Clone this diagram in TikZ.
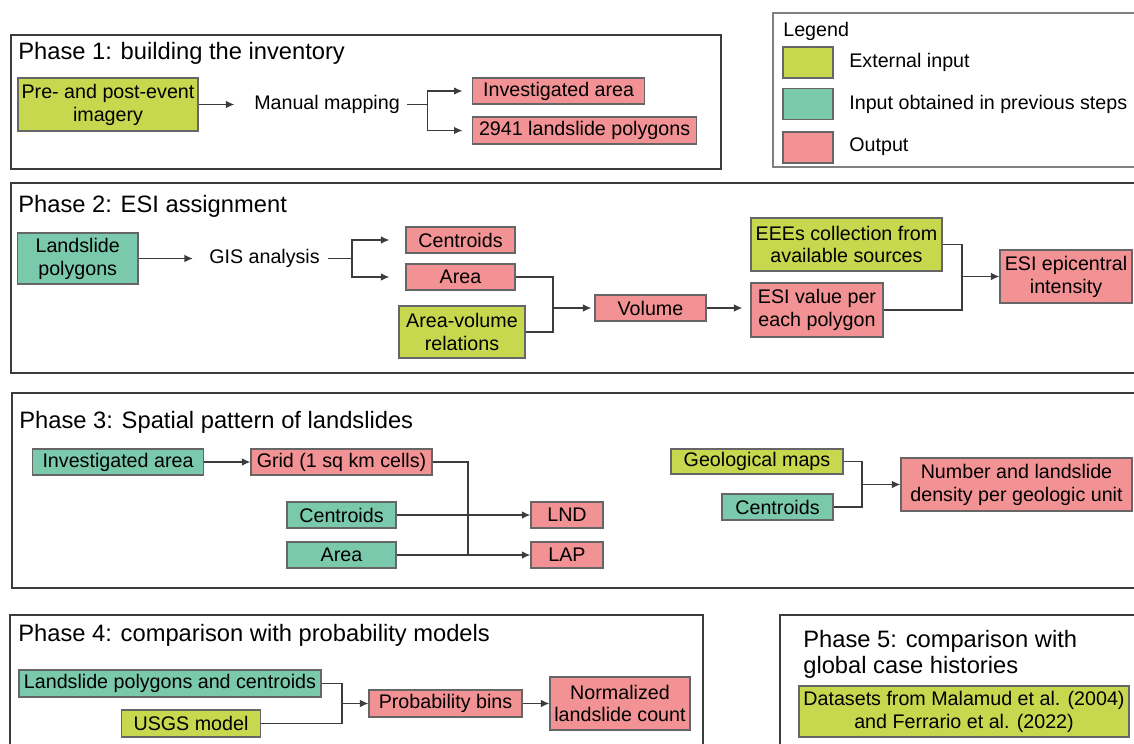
\documentclass[tikz,border=0pt]{standalone}
\usepackage{fontspec}
\setmainfont{Liberation Sans}
\usepackage{tikz}
\usetikzlibrary{arrows,arrows.meta,positioning}
\definecolor{extcol}{RGB}{199,215,78}
\definecolor{prevcol}{RGB}{122,201,172}
\definecolor{outcol}{RGB}{242,146,148}
\definecolor{linecol}{RGB}{60,60,60}
\newcommand{\boxfont}{\fontsize{11.2}{13}\selectfont}
\newcommand{\phasefont}{\fontsize{13.5}{14.7}\selectfont}
\tikzset{
  %Define standard arrow tip
  >={Latex[length=0.17cm,width=0.15cm]},
  %Define style for boxes
  flowbox/.style={
    rectangle,
    draw=black!60, line width=0.7pt,
    inner sep=1pt,
    minimum height=0.52cm,
    align=center,
    font=\boxfont},
  extbox/.style={flowbox, fill=extcol},
  prevbox/.style={flowbox, fill=prevcol},
  outbox/.style={flowbox, fill=outcol},
  plain/.style={font=\boxfont, inner ysep=1pt},
  % Define style for phase frames
  phaseframe/.style={draw=linecol, line width=1.2pt},
  phasetitle/.style={inner sep=0pt, font=\phasefont, align=left},
  % Define connector style
  link/.style={draw=linecol, line width=0.7pt},
  pil/.style={link, ->}
}

\begin{document}
\begin{tikzpicture}[x=0.02cm, y=-0.02cm]
  \useasboundingbox (0,0) rectangle (1134,744);

  % Phase 1
  \draw[phaseframe] (11,35) rectangle (721,169);
  \node[phasetitle, anchor=base west] (title1) at (18,59) {Phase 1: building the inventory};
  \node[extbox, minimum width=3.6cm, minimum height=1.06cm] (imagery) at (108,104.5) {Pre- and post-event\\imagery};
  \node[plain, inner xsep=0.14cm] (mapping) at (327,104.5) {Manual mapping};
  \node[outbox, minimum width=3.44cm] (invarea) at (558.6,91) {Investigated area};
  \node[outbox, minimum width=4.48cm, minimum height=0.54cm] (polygons) at (584.6,130.5) {2941 landslide polygons};
  \draw[pil, shorten >=0.25cm] (imagery) -- (mapping);
  \draw[link] (mapping.east) -- ++(20.5,0) coordinate (split1);
  \draw[pil, shorten >=0.19cm] (split1) |- (invarea);
  \draw[pil, shorten >=0.19cm] (split1) |- (polygons);

  % Legend
  \draw[draw=black!50, line width=0.8pt] (1134,13) -- (773,13) -- (773,167) -- (1134,167);
  \node[plain, anchor=west, inner sep=0pt] (legend) at (783,31) {Legend};
  \node[extbox, minimum width=1cm, minimum height=0.62cm] (keyext) at (808,62.5) {};
  \node[prevbox, minimum width=1cm, minimum height=0.62cm] (keyprev) at (808,104) {};
  \node[outbox, minimum width=1cm, minimum height=0.62cm] (keyout) at (808,147.5) {};
  \node[plain, anchor=west, inner sep=0pt] (labext) at (849,62) {External input};
  \node[plain, anchor=west, inner sep=0pt] (labprev) at (849,104) {Input obtained in previous steps};
  \node[plain, anchor=west, inner sep=0pt] (labout) at (849,147) {Output};

  % Phase 2
  \draw[phaseframe] (1134,183) -- (11,183) -- (11,373) -- (1134,373);
  \node[phasetitle, anchor=base west] (title2) at (18,212) {Phase 2: ESI assignment};
  \node[prevbox, minimum width=2.41cm, minimum height=1.02cm] (lspolys) at (77.7,258.5) {Landslide\\polygons};
  \node[plain, inner xsep=0.16cm] (gis) at (264.5,258.5) {GIS analysis};
  \node[outbox, minimum width=2.18cm] (centroids) at (460.5,240) {Centroids};
  \node[outbox, minimum width=2.18cm] (area) at (460.5,277) {Area};
  \node[extbox, minimum width=2.52cm, minimum height=1.04cm] (avrel) at (462,332) {Area-volume\\relations};
  \node[outbox, minimum width=2.22cm] (volume) at (650.5,308) {Volume};
  \node[outbox, minimum width=2.64cm, minimum height=1.08cm] (esivalue) at (817,310) {ESI value per\\each polygon};
  \node[extbox, minimum width=3.82cm, minimum height=1.06cm] (eees) at (846.5,244.5) {EEEs collection from\\available sources};
  \node[outbox, minimum width=2.64cm, minimum height=1.06cm] (esiint) at (1066,276.5) {ESI epicentral\\intensity};
  \draw[pil, shorten >=0.16cm] (lspolys) -- (gis);
  \draw[link] (gis.east) -- ++(24,0) coordinate (split2);
  \draw[pil, shorten >=0.32cm] (split2) |- (centroids);
  \draw[pil, shorten >=0.32cm] (split2) |- (area);
  \coordinate (join2a) at (553,308);
  \draw[link] (area.east) -| (join2a) |- (avrel.east);
  \draw[pil, shorten >=0.06cm] (join2a) -- (volume);
  \draw[pil, shorten >=0.16cm] (volume) -- (volume -| esivalue.west);
  \coordinate (join2b) at (962,276.5);
  \draw[link] (eees.east) -| (join2b) |- (esivalue.east);
  \draw[pil] (join2b) -- (esiint);

  % Phase 3
  \draw[phaseframe] (1134,393) -- (12,393) -- (12,588) -- (1134,588);
  \node[phasetitle, anchor=base west] (title3) at (19,428) {Phase 3: Spatial pattern of landslides};
  \node[prevbox, minimum width=3.42cm] (invarea3) at (118,462) {Investigated area};
  \node[outbox, minimum width=3.62cm] (grid) at (341.5,462) {Grid (1 sq km cells)};
  \node[prevbox, minimum width=2.18cm] (centroids3) at (341.5,515) {Centroids};
  \node[prevbox, minimum width=2.18cm] (area3) at (341.5,555) {Area};
  \node[outbox, minimum width=1.44cm] (lnd) at (567,515) {LND};
  \node[outbox, minimum width=1.44cm] (lap) at (567,555) {LAP};
  \draw[pil] (invarea3) -- (grid);
  \draw[pil] (centroids3) -- (lnd);
  \draw[pil] (area3) -- (lap);
  \coordinate (join3a) at (468,555);
  \draw[link] (grid.east) -| (join3a);
  \node[extbox, minimum width=3.44cm, minimum height=0.5cm] (geomaps) at (757,461.5) {Geological maps};
  \node[prevbox, minimum width=2.22cm] (centroids3b) at (777.5,507) {Centroids};
  \node[outbox, minimum width=4.62cm, minimum height=1.06cm] (density) at (1016.5,484.5) {Number and landslide\\density per geologic unit};
  \coordinate (join3b) at (862,484.5);
  \draw[link] (geomaps.east) -| (join3b) |- (centroids3b.east);
  \draw[pil] (join3b) -- (density);

  % Phase 4
  \draw[phaseframe] (10,744) -- (10,615) -- (703,615) -- (703,744);
  \node[phasetitle, anchor=base west] (title4) at (18,641) {Phase 4: comparison with probability models};
  \node[prevbox, minimum width=6.04cm, minimum height=0.54cm] (lspc) at (170,683.5) {Landslide polygons and centroids};
  \node[extbox, minimum width=2.78cm, minimum height=0.54cm] (usgs) at (191,723.5) {USGS model};
  \node[outbox, minimum width=3.06cm, minimum height=0.54cm] (probbins) at (445.5,703.5) {Probability bins};
  \node[outbox, minimum width=2.8cm, minimum height=1.06cm] (normcount) at (620,703.5) {Normalized\\landslide count};
  \coordinate (join4) at (342,703.5);
  \draw[link] (lspc.east) -| (join4) |- (usgs.east);
  \draw[pil] (join4) -- (probbins);
  \draw[pil] (probbins) -- (normcount);

  % Phase 5
  \draw[phaseframe] (1134,615) -- (780,615) -- (780,744);
  \node[phasetitle, anchor=north west] (title5) at (803,630) {Phase 5: comparison with\\global case histories};
  \node[extbox, minimum width=6.6cm, minimum height=1.02cm] (datasets) at (964,711.5) {Datasets from Malamud et al. (2004)\\and Ferrario et al. (2022)};
\end{tikzpicture}
\end{document}
